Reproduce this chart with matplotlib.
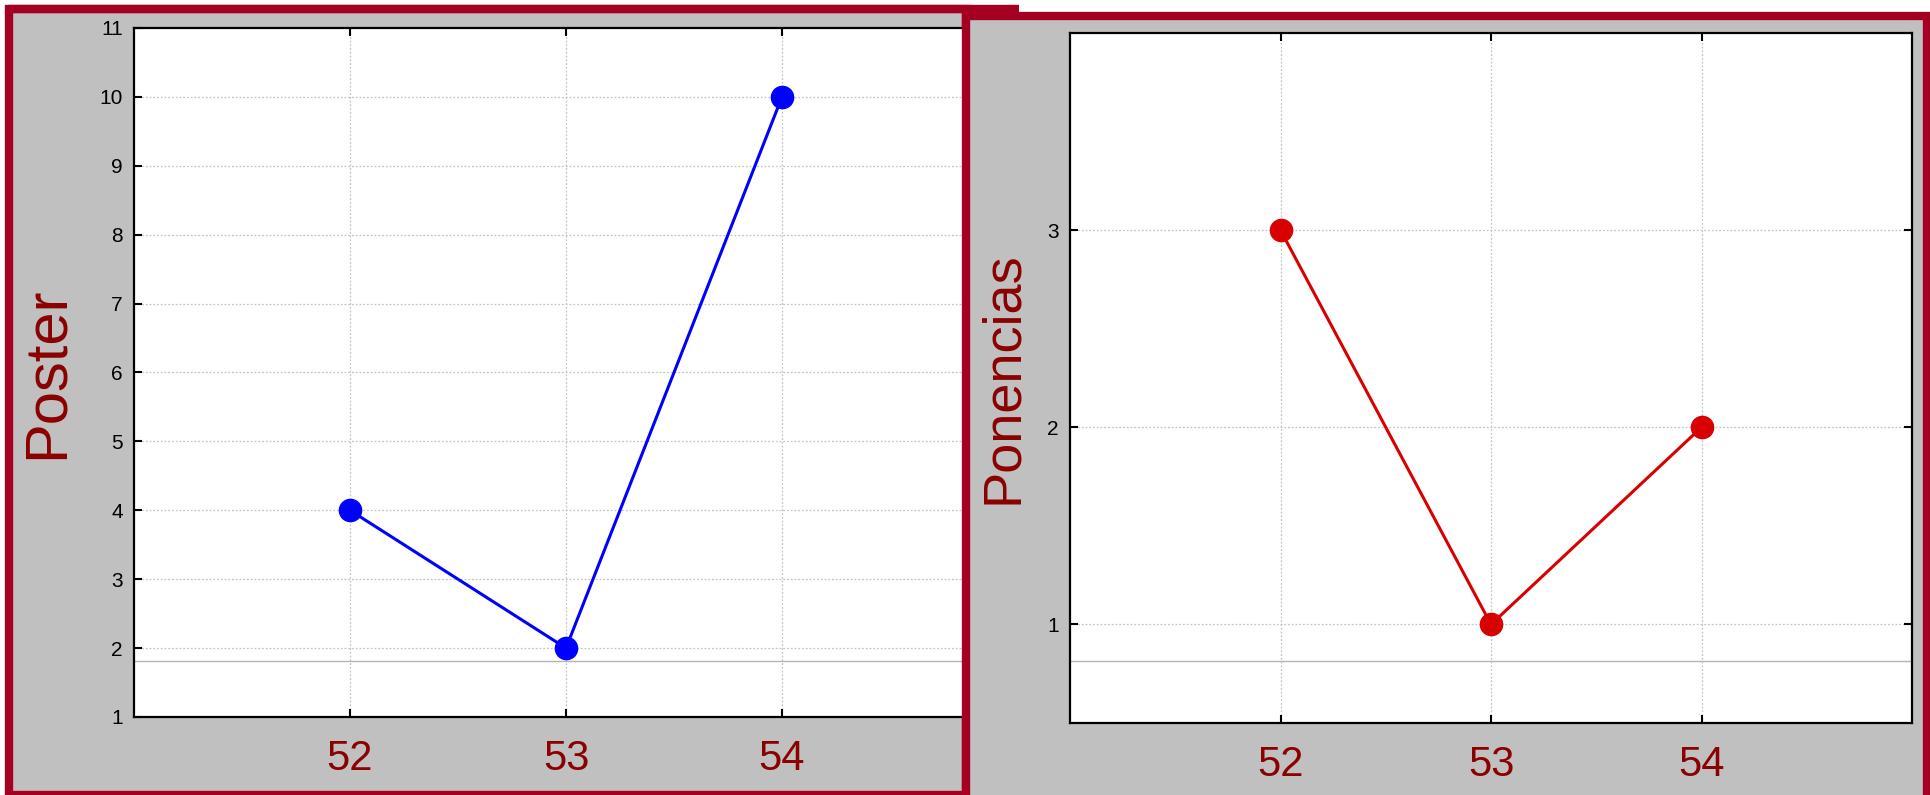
import matplotlib
matplotlib.use("Agg")
import matplotlib.pyplot as plt
from matplotlib.patches import Rectangle
from matplotlib.lines import Line2D

plt.rcParams['font.family'] = ['Liberation Sans', 'DejaVu Sans']

# data
meetings = [52, 53, 54]
poster = [4, 2, 10]
ponencias = [3, 1, 2]
poster_ticks = list(range(1, 12))
ponencias_ticks = [1, 2, 3]

RED_FRAME = "#A50021"
PANEL_GRAY = "#C0C0C0"
LABEL_RED = "#8B0000"

W, H = 1930, 795
fig = plt.figure(figsize=(W / 100, H / 100), dpi=100)


def px_rect(x0, y0, x1, y1):
    # pixel box (top-left origin) -> figure fraction
    return [x0 / W, 1 - y1 / H, (x1 - x0) / W, (y1 - y0) / H]


def style_axes(ax, ylabel, ylim, yticks, label_x, label_size):
    ax.set_facecolor("white")
    ax.set_xlim(51, 55)
    ax.set_ylim(*ylim)
    ax.set_xticks(meetings)
    ax.set_xticklabels([str(m) for m in meetings])
    ax.set_yticks(yticks)
    ax.tick_params(axis="x", direction="in", length=6, width=1.5, pad=16,
                   labelsize=30, labelcolor=LABEL_RED, top=True)
    ax.tick_params(axis="y", direction="in", length=6, width=1.5, pad=8,
                   labelsize=15, labelcolor="black", right=True)
    for s in ax.spines.values():
        s.set_linewidth(1.6)
        s.set_color("black")
    ax.grid(True, linestyle=(0, (1.5, 1.5)), color="#c4c4c4", linewidth=0.9)
    ax.set_axisbelow(True)
    ax.set_ylabel(ylabel, fontsize=label_size, color=LABEL_RED)
    ax.yaxis.set_label_coords(label_x, 0.5)


# left panel frame
left_frame = Rectangle((9 / W, 1 - 795 / H), (966 - 9) / W, (795 - 9) / H,
                       transform=fig.transFigure, facecolor=PANEL_GRAY,
                       edgecolor=RED_FRAME, linewidth=6, zorder=0.1)
fig.add_artist(left_frame)
fig.add_artist(Line2D([0.004, 1019 / W], [1 - 9 / H, 1 - 9 / H],
                      transform=fig.transFigure, color=RED_FRAME,
                      linewidth=6, zorder=0.15, solid_capstyle="butt"))

ax1 = fig.add_axes(px_rect(134, 28, 998, 717), zorder=0.2)
ax1.plot(meetings, poster, color="#0000FF", linewidth=2.2, marker="o",
         markersize=16, zorder=3)
ax1.axhline(1.81, color="#b4b4b4", linewidth=1.0, zorder=1)
style_axes(ax1, "Poster", (1, 11), poster_ticks, -0.069, 43)

# right panel frame
right_frame = Rectangle((966 / W, 1 - 800 / H), (1926.5 - 966) / W, (800 - 15.5) / H,
                        transform=fig.transFigure, facecolor=PANEL_GRAY,
                        edgecolor=RED_FRAME, linewidth=6, zorder=0.3)
fig.add_artist(right_frame)

ax2 = fig.add_axes(px_rect(1070, 33, 1912, 723), zorder=0.4)
ax2.plot(meetings, ponencias, color="#D80000", linewidth=2.2, marker="o",
         markersize=16, zorder=3)
ax2.axhline(0.815, color="#b4b4b4", linewidth=1.0, zorder=1)
style_axes(ax2, "Ponencias", (0.5, 4.0), ponencias_ticks, -0.050, 39)

fig.savefig("out.png", dpi=100, facecolor="white")
